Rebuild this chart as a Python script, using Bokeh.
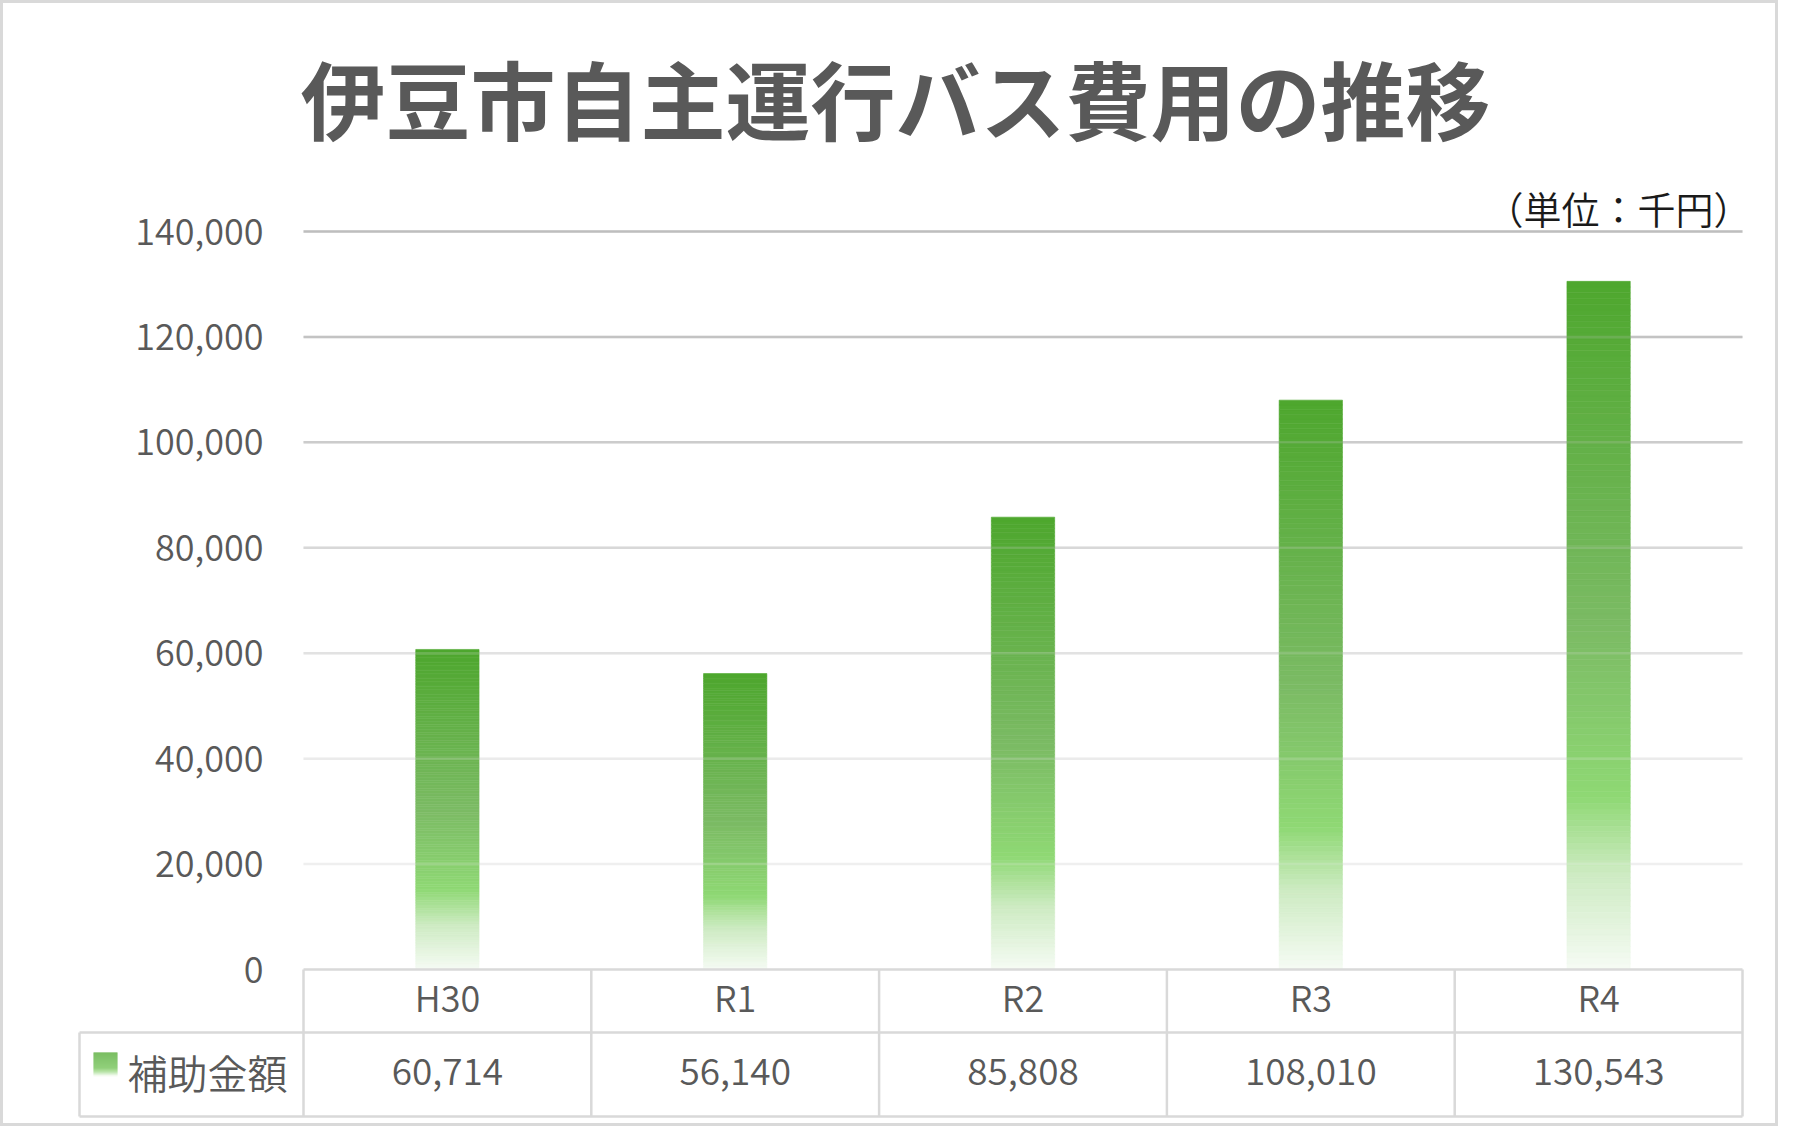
from bokeh.plotting import figure
from bokeh.models import Range1d
from bokeh.core.properties import value
from bokeh.embed import file_html
from bokeh.resources import INLINE

# data
TITLE = "伊豆市自主運行バス費用の推移"
UNIT_LABEL = "（単位：千円）"
SERIES_NAME = "補助金額"
CATEGORIES = ["H30", "R1", "R2", "R3", "R4"]
VALUES = [60714, 56140, 85808, 108010, 130543]
TICKS = [0, 20000, 40000, 60000, 80000, 100000, 120000, 140000]
TICK_LABELS = ["0", "20,000", "40,000", "60,000", "80,000", "100,000", "120,000", "140,000"]

# canvas size and layout (canvas pixels)
W, H = 1778, 1126
PLOT_LEFT = 303          # x of the first category's left edge
CAT_PX = 287.8           # width of one category
ZERO_Y = 969             # y of value 0
TOP_Y = 231              # y of value 140,000
Y_PX = (ZERO_Y - TOP_Y) / 140000
TABLE_LEFT = 79
ROW_DIV = 1032
TABLE_BOTTOM = 1116

FONT = "'Noto Sans CJK JP DemiLight', 'Noto Sans CJK JP Light', 'Noto Sans CJK JP'"
TITLE_FONT = "Noto Sans CJK JP"
TEXT_COLOR = "#595959"
LINE_COLOR = "#d9d9d9"
GRID_COLORS = ["#d9d9d9", "#efefef", "#ebebeb", "#e3e3e3", "#d9d9d9", "#cccccc", "#c4c4c4", "#bfbfbf"]
BAR_STOPS = [(0.0, "#4ea72e"), (0.5, "#7bbb64"), (0.75, "#8fd874"), (0.86, "#cdebc2"), (1.0, "#f6fbf4")]
SWATCH_STOPS = [(0.0, "#4ea72e"), (0.65, "#6cc04f"), (0.82, "#a5dc90"), (1.0, "#ffffff")]


def px_x(cx):
    return (cx - PLOT_LEFT) / CAT_PX


def px_y(cy):
    return (ZERO_Y - cy) / Y_PX


def grad(stops, f):
    for (f0, c0), (f1, c1) in zip(stops[:-1], stops[1:]):
        if f0 <= f <= f1:
            t = (f - f0) / (f1 - f0)
            a = [int(c0[i:i + 2], 16) for i in (1, 3, 5)]
            b = [int(c1[i:i + 2], 16) for i in (1, 3, 5)]
            return "#%02x%02x%02x" % tuple(round(a[k] + (b[k] - a[k]) * t) for k in range(3))
    return stops[-1][1]


p = figure(width=W, height=H,
           x_range=Range1d(px_x(0), px_x(W)), y_range=Range1d(px_y(H), px_y(0)),
           x_axis_type=None, y_axis_type=None,
           toolbar_location=None, output_backend="svg", min_border=0)
p.outline_line_color = LINE_COLOR
p.outline_line_width = 5
p.background_fill_color = "white"
p.border_fill_color = "white"

n = len(CATEGORIES)
centers = [i + 0.5 for i in range(n)]

# gridlines
gx0 = [0] * (len(TICKS) - 1)
gx1 = [n] * (len(TICKS) - 1)
gy = TICKS[1:]
p.segment(x0=gx0, y0=gy, x1=gx1, y1=gy, line_color=GRID_COLORS[1:], line_width=2.5)

# bars as thin gradient slices
N = 120
bx, bb, bt, bc = [], [], [], []
for c, v in zip(centers, VALUES):
    for k in range(N):
        bx.append(c)
        bb.append(v * k / N)
        bt.append(v * (k + 1) / N)
        bc.append(grad(BAR_STOPS, 1 - (k + 0.5) / N))
p.vbar(x=bx, bottom=bb, top=bt, width=0.22, fill_color=bc, line_color=bc, line_width=0.6)

# gridlines faintly showing through the bars
p.segment(x0=gx0, y0=gy, x1=gx1, y1=gy, line_color=GRID_COLORS[1:], line_width=2.5, line_alpha=0.2)

# y tick labels
p.text(x=[px_x(263)] * len(TICKS), y=TICKS, text=TICK_LABELS,
       text_font=value(FONT), text_font_size="36px", text_color=TEXT_COLOR,
       text_align="right", text_baseline="middle")

# data table
row_div = px_y(ROW_DIV)
bottom = px_y(TABLE_BOTTOM)
left = px_x(TABLE_LEFT)
hx0 = [0, left, left]
hx1 = [n, n, n]
hy = [0, row_div, bottom]
p.segment(x0=hx0, y0=hy, x1=hx1, y1=hy, line_color=LINE_COLOR, line_width=2.5)
vx = list(range(n + 1)) + [left]
vy0 = [0] * (n + 1) + [row_div]
p.segment(x0=vx, y0=vy0, x1=vx, y1=[bottom] * (n + 2), line_color=LINE_COLOR, line_width=2.5)

p.text(x=centers, y=[px_y(995)] * n, text=CATEGORIES,
       text_font=value(FONT), text_font_size="36px", text_color=TEXT_COLOR,
       text_align="center", text_baseline="middle")
p.text(x=centers, y=[px_y(1071)] * n, text=[f"{v:,}" for v in VALUES],
       text_font=value(FONT), text_font_size="37px", text_color=TEXT_COLOR,
       text_align="center", text_baseline="middle")

# legend key with gradient
M = 24
s_top, s_bot = px_y(1052), px_y(1076)
p.quad(left=[px_x(93)] * M, right=[px_x(117)] * M,
       top=[s_top - (s_top - s_bot) * k / M for k in range(M)],
       bottom=[s_top - (s_top - s_bot) * (k + 1) / M for k in range(M)],
       fill_color=[grad(SWATCH_STOPS, (k + 0.5) / M) for k in range(M)],
       line_color=None)
p.text(x=[px_x(127)], y=[px_y(1071)], text=[SERIES_NAME],
       text_font=value(FONT), text_font_size="40px", text_color=TEXT_COLOR,
       text_align="left", text_baseline="middle")

# title and unit
p.text(x=[px_x(895)], y=[px_y(96)], text=[TITLE],
       text_font=value(TITLE_FONT), text_font_size="85px", text_font_style="bold",
       text_color=TEXT_COLOR, text_align="center", text_baseline="middle")
p.text(x=[px_x(1751)], y=[px_y(207)], text=[UNIT_LABEL],
       text_font=value(FONT), text_font_size="38px", text_color="#1a1a1a",
       text_align="right", text_baseline="middle")

open("out.html", "w").write(file_html(p, INLINE))
